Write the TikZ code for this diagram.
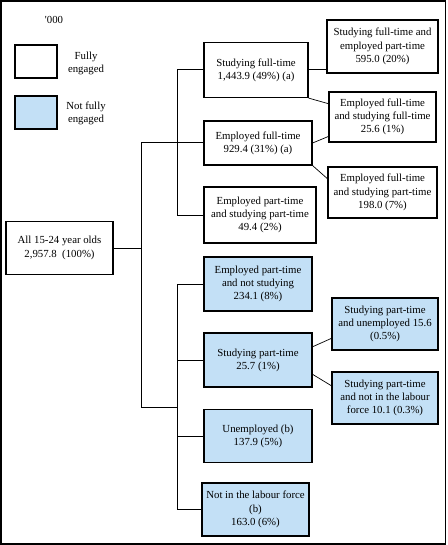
\documentclass[tikz,border=0pt]{standalone}
\usepackage{fontspec}
\setmainfont{Liberation Serif}
\usetikzlibrary{calc}
\definecolor{nfblue}{RGB}{195,224,246}
\tikzset{
  box/.style={draw, line width=1.2pt, inner sep=1pt, align=center, font=\fontsize{10.8}{13.2}\selectfont},
  fbox/.style={box, fill=white},
  nbox/.style={box, fill=nfblue},
  conn/.style={line width=1pt},
  diag/.style={line width=0.7pt},
  lab/.style={align=center, font=\fontsize{10.8}{13.2}\selectfont, inner sep=0pt}
}
\begin{document}
\begin{tikzpicture}[x=1pt,y=-1pt]
\useasboundingbox (0,0) rectangle (447,545);
\draw[line width=1.5pt] (0.8,0.8) rectangle (445.7,543.9);

% legend
\node[lab] (units) at (54,20) {\textquotesingle 000};
\node[fbox, minimum width=42pt, minimum height=33pt] (legW) at (36,61.5) {};
\node[nbox, minimum width=42pt, minimum height=33pt] (legB) at (36,112.5) {};
\node[lab] (legWt) at (86,63.5) {Fully\\engaged};
\node[lab] (legBt) at (86,113.5) {Not fully\\engaged};

% boxes
\node[fbox, minimum width=107pt, minimum height=53pt] (root) at (59.5,248) {All 15-24 year olds\\2,957.8\ \ (100\%)};

\node[fbox, minimum width=104pt, minimum height=55pt] (sft) at (256,70) {Studying full-time\\1,443.9 (49\%) (a)};
\node[fbox, minimum width=108pt, minimum height=44pt] (eft) at (258,143) {Employed full-time\\929.4 (31\%) (a)};
\node[fbox, minimum width=112pt, minimum height=56pt] (eptspt) at (260,215) {Employed part-time\\and studying part-time\\49.4 (2\%)};

\node[nbox, minimum width=108pt, minimum height=54pt] (eptns) at (258,284) {Employed part-time\\and not studying\\234.1 (8\%)};
\node[nbox, minimum width=108pt, minimum height=54pt] (spt) at (258,360) {Studying part-time\\25.7 (1\%)};
\node[nbox, minimum width=108pt, minimum height=53pt] (unemp) at (258,436) {Unemployed (b)\\137.9 (5\%)};
\node[nbox, minimum width=107pt, minimum height=53pt] (nilf) at (255.5,509.5) {Not in the labour force\\(b)\\163.0 (6\%)};

\node[fbox, minimum width=111pt, minimum height=53pt] (sftept) at (382.5,46.5) {Studying full-time and\\employed part-time\\595.0 (20\%)};
\node[fbox, minimum width=107pt, minimum height=50pt] (eftsft) at (382.5,117) {Employed full-time\\and studying full-time\\25.6 (1\%)};
\node[fbox, minimum width=109pt, minimum height=51pt] (eftspt) at (382.5,192.5) {Employed full-time\\and studying part-time\\198.0 (7\%)};
\node[nbox, minimum width=106pt, minimum height=52pt] (sptun) at (385,324) {Studying part-time\\and unemployed 15.6\\(0.5\%)};
\node[nbox, minimum width=106pt, minimum height=52pt] (sptnilf) at (385,398) {Studying part-time\\and not in the labour\\force 10.1 (0.3\%)};

% junctions
\coordinate (t1) at (141,143);
\coordinate (t2) at (141,407);
\coordinate (b1) at (177,70);
\coordinate (b2) at (177,215);
\coordinate (c1) at (177,284);
\coordinate (c2) at (177,509.5);

% trunk and branches
\draw[conn] (root.east) -- (root.east -| t1);
\draw[conn] (t1) -- (t2);
\draw[conn] (t1) -- (eft.west);
\draw[conn] (t2) -- (t2 -| c1);
\draw[conn] (b1) -- (b2);
\draw[conn] (b1) -- (sft.west);
\draw[conn] (b2) -- (eptspt.west);
\draw[conn] (c1) -- (c2);
\draw[conn] (c1) -- (eptns.west);
\draw[conn] (spt.west -| c1) -- (spt.west);
\draw[conn] (unemp.west -| c1) -- (unemp.west);
\draw[conn] (c2) -- (nilf.west);

% to the right column
\draw[conn] (sft.east) -- (sft.east -| sftept.west);
\draw[diag] (sft.south east) -- ($(eftsft.north west)!0.24!(eftsft.south west)$);
\draw[diag] (eft.east) -- ($(eftsft.north west)!0.88!(eftsft.south west)$);
\draw[diag] (eft.south east) -- ($(eftspt.north west)!0.235!(eftspt.south west)$);
\draw[diag] ($(spt.north east)!0.26!(spt.south east)$) -- ($(sptun.north west)!0.77!(sptun.south west)$);
\draw[diag] ($(spt.north east)!0.76!(spt.south east)$) -- ($(sptnilf.north west)!0.27!(sptnilf.south west)$);
\end{tikzpicture}
\end{document}
